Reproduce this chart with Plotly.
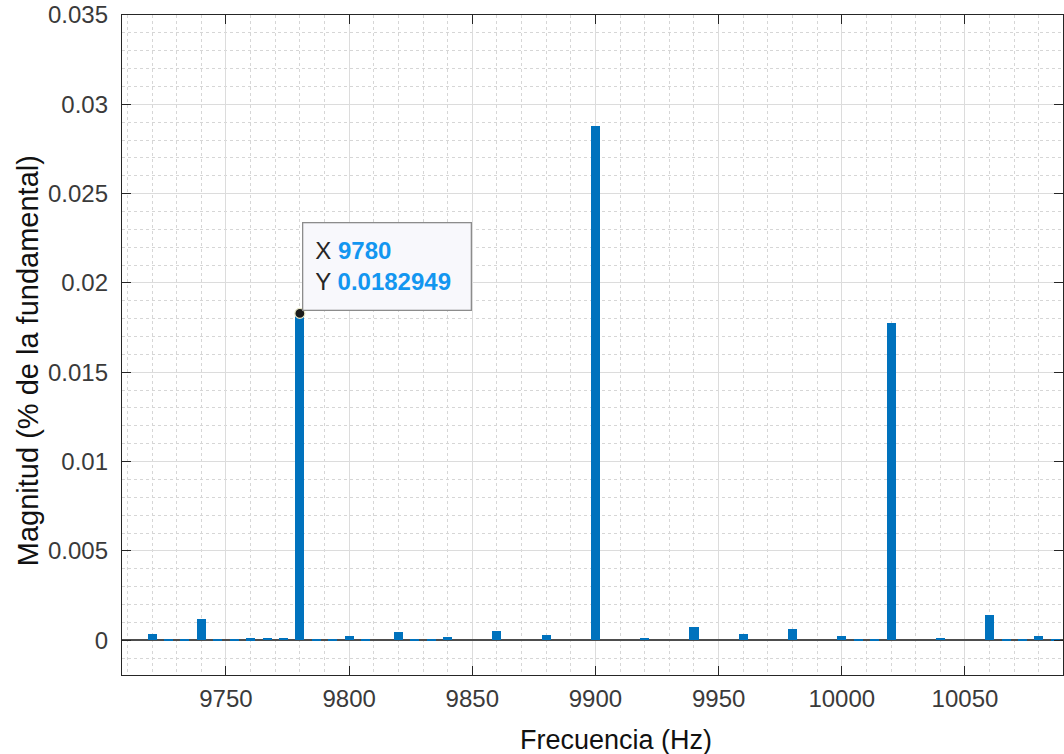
import plotly.graph_objects as go

# Spectrum bins around the switching frequency (Hz) and their magnitudes (% of fundamental)
freq_hz = [9720, 9726.7, 9733.3, 9740, 9746.7, 9753.3, 9760, 9766.7, 9773.3, 9780,
           9786.7, 9793.3, 9800, 9806.7, 9820, 9826.7, 9833.3, 9840, 9860, 9880,
           9900, 9920, 9940, 9960, 9980, 10000, 10006.7, 10013.3, 10020, 10040,
           10060, 10066.7, 10073.3, 10080, 10086.7]
magnitude = [0.00034, 0.00003, 0.00003, 0.00118, 0.00005, 0.00003, 0.00010, 0.00012,
             0.00012, 0.0182949, 0.00008, 0.00003, 0.00021, 0.00003, 0.00045, 0.00003,
             0.00003, 0.00015, 0.00050, 0.00028, 0.02880, 0.00013, 0.00071, 0.00037,
             0.00065, 0.00022, 0.00003, 0.00004, 0.01777, 0.00013, 0.00142, 0.00003,
             0.00003, 0.00026, 0.00003]

# Selected point shown in the data tip
tip_x = 9780
tip_y = 0.0182949

x_ticks = [9750, 9800, 9850, 9900, 9950, 10000, 10050]
x_tick_text = ["9750", "9800", "9850", "9900", "9950", "10000", "10050"]
y_ticks = [0, 0.005, 0.01, 0.015, 0.02, 0.025, 0.03, 0.035]
y_tick_text = ["0", "0.005", "0.01", "0.015", "0.02", "0.025", "0.03", "0.035"]

FONT = "Liberation Sans, Arial, Helvetica, sans-serif"
INK = "#262626"
BAR = "#0072BD"
TIP_BLUE = "#1396F0"

fig = go.Figure()

fig.add_trace(go.Bar(
    x=freq_hz, y=magnitude, width=3.7,
    marker=dict(color=BAR, line=dict(width=0)),
    hoverinfo="x+y",
))

fig.add_trace(go.Scatter(
    x=[tip_x], y=[tip_y], mode="markers",
    marker=dict(size=10, color="#1a1a1a", line=dict(color="#e8e8c8", width=1.2)),
    hoverinfo="skip",
))

# Data tip box anchored at the selected bar's top
fig.add_annotation(
    x=tip_x, y=tip_y, xref="x", yref="y",
    xanchor="left", yanchor="bottom", xshift=2, yshift=2,
    showarrow=False, align="left", valign="middle",
    width=143, height=62, borderpad=12,
    bgcolor="#F8F8FC", bordercolor="#8C8C8C", borderwidth=1.3,
    font=dict(family=FONT, size=24, color=INK),
    text=(f"X <b><span style='color:{TIP_BLUE}'>{tip_x}</span></b><br>"
          f"Y <b><span style='color:{TIP_BLUE}'>{tip_y}</span></b>"),
)

# Axis titles
fig.add_annotation(
    text="Magnitud (% de la fundamental)", xref="paper", yref="paper",
    x=-0.0999, y=0.477, xanchor="center", yanchor="middle", textangle=-90,
    showarrow=False, font=dict(family=FONT, size=29, color="#111111"),
)
fig.add_annotation(
    text="Frecuencia (Hz)", xref="paper", yref="paper",
    x=0.525, y=-0.0985, xanchor="center", yanchor="middle",
    showarrow=False, font=dict(family=FONT, size=27, color="#111111"),
)

axis_common = dict(
    showline=True, linecolor=INK, linewidth=1.3, mirror="ticks",
    ticks="inside", ticklen=9, tickwidth=1.3, tickcolor=INK,
    showgrid=True, gridcolor="#DCDCDC", gridwidth=1,
    tickfont=dict(family=FONT, size=24, color="#3A3A3A"),
)

fig.update_xaxes(
    range=[9707.8, 10089.8], tickvals=x_ticks, ticktext=x_tick_text,
    minor=dict(dtick=10, tick0=9700, showgrid=True, gridcolor="#D6D6D6",
               griddash="dot", gridwidth=1, ticks=""),
    zeroline=False, ticklabelstandoff=2,
    **axis_common,
)

fig.update_yaxes(
    range=[-0.00195, 0.035], tickvals=y_ticks, ticktext=y_tick_text,
    minor=dict(dtick=0.001, tick0=0, showgrid=True, gridcolor="#D6D6D6",
               griddash="dot", gridwidth=1, ticks=""),
    zeroline=True, zerolinecolor="#4D4D4D", zerolinewidth=1.6,
    ticklabelstandoff=8,
    **axis_common,
)

fig.update_layout(
    width=1064, height=754,
    margin=dict(l=122, r=1, t=15, b=79),
    paper_bgcolor="white", plot_bgcolor="white",
    showlegend=False, bargap=0,
)

fig.write_html("out.html")
